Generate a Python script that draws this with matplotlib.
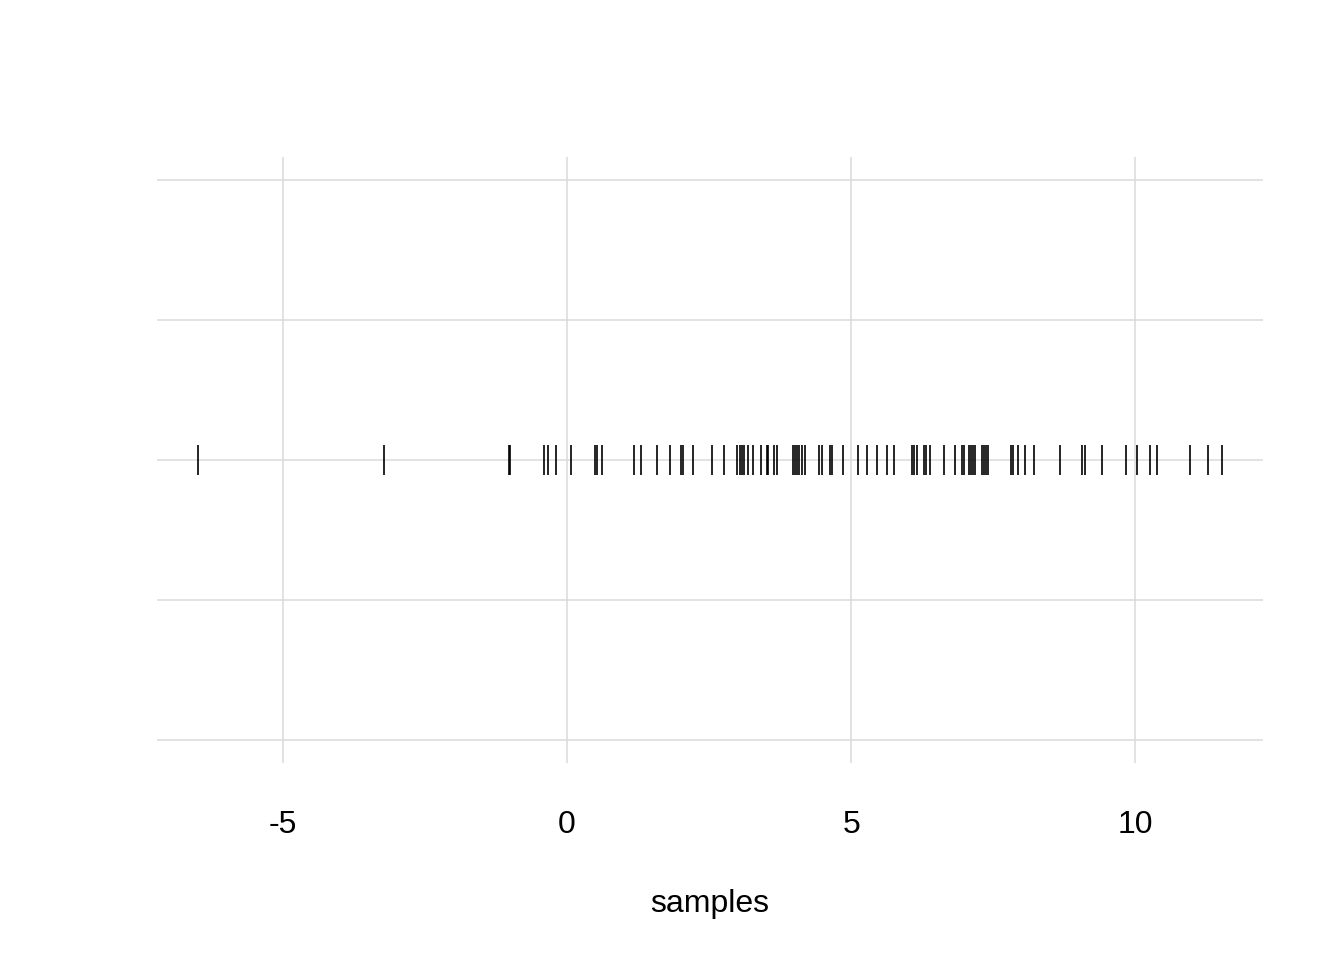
import matplotlib.pyplot as plt
import numpy as np

# sample values
samples = [
    -6.49, -3.22, -1.03, -1.00, -0.40, -0.34, -0.20, 0.06,
    0.49, 0.53, 0.62, 1.17, 1.30, 1.59, 1.81, 2.00, 2.04, 2.21, 2.55,
    2.76, 2.99, 3.05, 3.08, 3.12, 3.18, 3.27, 3.41, 3.52, 3.54, 3.64, 3.69,
    3.97, 4.01, 4.05, 4.09, 4.13, 4.19, 4.44, 4.48, 4.62, 4.66, 4.85,
    5.12, 5.28, 5.45, 5.64, 5.75, 6.07, 6.11, 6.16, 6.29, 6.32, 6.39,
    6.63, 6.83, 6.95, 6.98, 7.07, 7.11, 7.14, 7.18, 7.30, 7.34, 7.38, 7.41,
    7.81, 7.85, 7.93, 8.06, 8.22, 8.67, 9.06, 9.12, 9.41, 9.84, 10.03,
    10.26, 10.38, 10.97, 11.29, 11.53,
]
x_ticks = [-5, 0, 5, 10]
y_ticks = [-0.05, -0.025, 0, 0.025, 0.05]

plt.rcParams["font.family"] = ["Liberation Sans", "DejaVu Sans"]

fig = plt.figure(figsize=(13.44, 9.6), dpi=100)
ax = fig.add_axes([0.1168, 0.2052, 0.8229, 0.6313])

# rug of samples along y = 0
ax.vlines(samples, -0.0027, 0.0027, color="black", linewidth=1.2, zorder=3)

ax.set_xlim(-7.22, 12.25)
ax.set_ylim(-0.0541, 0.0541)
ax.set_xticks(x_ticks)
ax.set_xticklabels([str(t) for t in x_ticks])
ax.set_yticks(y_ticks)
ax.set_yticklabels([])

ax.grid(True, color="#dadada", linewidth=1.1)
ax.set_axisbelow(True)
for s in ax.spines.values():
    s.set_visible(False)
ax.tick_params(axis="both", length=0)
ax.tick_params(axis="x", labelsize=23, pad=34)

ax.set_xlabel("samples", fontsize=23, labelpad=35)

fig.savefig("out.png", dpi=100, facecolor="white")
